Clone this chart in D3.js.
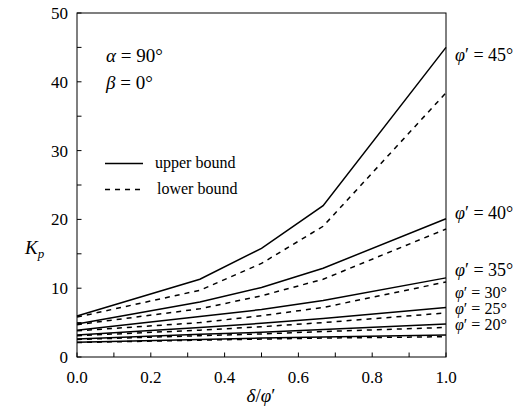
<!DOCTYPE html>
<html><head><meta charset="utf-8">
<script src="https://cdn.jsdelivr.net/npm/d3@7/dist/d3.min.js"></script>
<style>body{margin:0;background:#fff}svg{display:block}svg text{font-family:"Liberation Serif","DejaVu Serif",serif;fill:#000}</style>
</head><body><svg id="c" width="531" height="414" font-family="Liberation Serif, DejaVu Serif, serif"></svg>
<script>
// data
const ratio = [0, 0.333, 0.5, 0.667, 1];
const phiValues = [45, 40, 35, 30, 25, 20];
const upper45 = [5.95, 11.3, 15.8, 22.0, 45.0];
const lower45 = [5.8, 9.7, 13.6, 19.0, 38.4];
const upper40 = [4.8, 8.0, 10.1, 12.9, 20.1];
const lower40 = [4.7, 7.0, 8.9, 11.3, 18.6];
const upper35 = [3.9, 5.9, 6.9, 8.2, 11.5];
const lower35 = [3.8, 5.0, 6.0, 7.2, 10.9];
const upper30 = [3.2, 4.3, 4.9, 5.6, 7.2];
const lower30 = [3.1, 3.9, 4.4, 5.0, 6.4];
const upper25 = [2.6, 3.3, 3.6, 4.0, 4.8];
const lower25 = [2.55, 3.1, 3.35, 3.7, 4.3];
const upper20 = [2.15, 2.55, 2.75, 2.9, 3.2];
const lower20 = [2.1, 2.45, 2.6, 2.75, 2.95];
const xTicks = [0, 0.2, 0.4, 0.6, 0.8, 1.0];
const yTicks = [0, 10, 20, 30, 40, 50];
const upperSeries = [upper45, upper40, upper35, upper30, upper25, upper20];
const lowerSeries = [lower45, lower40, lower35, lower30, lower25, lower20];

const svg = d3.select("#c");
const x = d3.scaleLinear().domain([0, 1]).range([77, 446]);
const y = d3.scaleLinear().domain([0, 50]).range([357, 13]);

// ticks (inward)
const minorX = d3.range(0.1, 1, 0.2);
const minorY = d3.range(5, 50, 10);
const tl = 4.5;
svg.append("g").selectAll("line").data(xTicks.concat(minorX)).join("line")
  .attr("x1", d => x(d)).attr("x2", d => x(d)).attr("y1", y(0)).attr("y2", y(0) - tl)
  .attr("stroke", "#000").attr("stroke-width", 1);
svg.append("g").selectAll("line").data(yTicks.concat(minorY)).join("line")
  .attr("y1", d => y(d)).attr("y2", d => y(d)).attr("x1", x(0)).attr("x2", x(0) + tl)
  .attr("stroke", "#000").attr("stroke-width", 1);

// frame
svg.append("rect").attr("x", x(0)).attr("y", y(50)).attr("width", x(1) - x(0)).attr("height", y(0) - y(50))
  .attr("fill", "none").attr("stroke", "#000").attr("stroke-width", 1);

// tick labels
svg.append("g").selectAll("text").data(xTicks).join("text")
  .attr("x", d => x(d)).attr("y", 383).attr("text-anchor", "middle").style("font-size", "17px")
  .text(d => d3.format(".1f")(d));
svg.append("g").selectAll("text").data(yTicks).join("text")
  .attr("x", 68).attr("y", d => y(d) + 6).attr("text-anchor", "end").style("font-size", "17px")
  .text(d => d);

// lines
const line = d3.line().x((d, i) => x(ratio[i])).y(d => y(d));
const g = svg.append("g").attr("fill", "none").attr("stroke", "#000").attr("stroke-width", 1.5);
upperSeries.forEach(s => g.append("path").attr("d", line(s)));
lowerSeries.forEach(s => g.append("path").attr("d", line(s)).attr("stroke-dasharray", "5,5"));

// phi labels
const labelY = [55, 213, 270, 292, 308, 324];
const labelSize = [18, 18, 18, 16, 16, 16];
svg.append("g").selectAll("text").data(phiValues).join("text")
  .attr("x", 455).attr("y", (d, i) => labelY[i] + 6).style("font-size", (d, i) => labelSize[i] + "px")
  .html(d => `<tspan font-style="italic">φ</tspan>′ = ${d}°`);

// annotations
svg.append("text").attr("x", 106).attr("y", 62).style("font-size", "19px")
  .html(`<tspan font-style="italic">α</tspan> = 90°`);
svg.append("text").attr("x", 106).attr("y", 89).style("font-size", "19px")
  .html(`<tspan font-style="italic">β</tspan> = 0°`);

// legend
svg.append("line").attr("x1", 105).attr("x2", 143).attr("y1", 163.5).attr("y2", 163.5)
  .attr("stroke", "#000").attr("stroke-width", 1.5);
svg.append("line").attr("x1", 105).attr("x2", 143).attr("y1", 189.5).attr("y2", 189.5)
  .attr("stroke", "#000").attr("stroke-width", 1.5).attr("stroke-dasharray", "5,5");
svg.append("text").attr("x", 155).attr("y", 168).style("font-size", "16px").text("upper bound");
svg.append("text").attr("x", 157).attr("y", 194).style("font-size", "16px").text("lower bound");

// axis titles
svg.append("text").attr("x", 25).attr("y", 254).style("font-size", "19px")
  .html(`<tspan font-style="italic">K</tspan><tspan font-style="italic" font-size="13px" dy="4">p</tspan>`);
svg.append("text").attr("x", 261).attr("y", 402).attr("text-anchor", "middle").style("font-size", "19px")
  .html(`<tspan font-style="italic">δ</tspan>/<tspan font-style="italic">φ</tspan>′`);
</script></body></html>
